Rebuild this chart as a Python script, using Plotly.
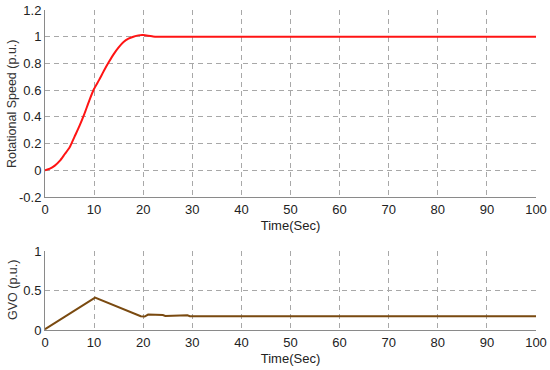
import plotly.graph_objects as go
from plotly.subplots import make_subplots

# Rotational speed data
t_speed = [0, 1, 2, 3, 4, 5, 6, 7, 8, 9, 10, 11, 12, 13, 14, 15, 16, 17, 18, 19, 20, 21, 22, 23, 100]
speed = [0, 0.012, 0.035, 0.07, 0.12, 0.17, 0.25, 0.33, 0.42, 0.52, 0.61, 0.675, 0.745, 0.81, 0.87, 0.92, 0.96, 0.985, 1.0, 1.01, 1.012, 1.008, 1.002, 1.0, 1.0]

# GVO data
t_gvo = [0, 10.2, 19.5, 20.3, 21, 23, 24, 24.5, 26, 27, 29, 29.5, 100]
gvo = [0.01, 0.41, 0.175, 0.17, 0.195, 0.195, 0.19, 0.178, 0.178, 0.186, 0.186, 0.175, 0.175]

x_ticks = [0, 10, 20, 30, 40, 50, 60, 70, 80, 90, 100]
speed_ticks = [-0.2, 0, 0.2, 0.4, 0.6, 0.8, 1, 1.2]
speed_labels = ["-0.2", "0", "0.2", "0.4", "0.6", "0.8", "1", "1.2"]
gvo_ticks = [0, 0.5, 1]
gvo_labels = ["0", "0.5", "1"]

FONT = "Liberation Sans, Arial, Helvetica"

fig = make_subplots(rows=2, cols=1)
fig.add_trace(go.Scatter(x=t_speed, y=speed, mode="lines",
                         line=dict(color="#ff1414", width=2, shape="spline", smoothing=0.6),
                         showlegend=False), row=1, col=1)
fig.add_trace(go.Scatter(x=t_gvo, y=gvo, mode="lines",
                         line=dict(color="#7a4a10", width=2), showlegend=False), row=2, col=1)

axis_common = dict(showgrid=True, gridcolor="#a8a8a8", griddash="5px,4px", gridwidth=1,
                   showline=True, linecolor="#8a8a8a", linewidth=1, zeroline=False,
                   automargin=False, ticks="",
                   tickfont=dict(family=FONT, size=13, color="#222"))

fig.update_xaxes(**axis_common, range=[0, 100], tickvals=x_ticks,
                 title=dict(text="Time(Sec)", font=dict(family=FONT, size=13, color="#222"), standoff=5))
fig.update_yaxes(**axis_common)
fig.update_yaxes(range=[-0.2, 1.2], tickvals=speed_ticks, ticktext=speed_labels,
                 domain=[0.4156, 1], row=1, col=1)
fig.update_yaxes(range=[0, 1], tickvals=gvo_ticks, ticktext=gvo_labels,
                 domain=[0, 0.2469], row=2, col=1)

fig.add_annotation(text="Rotational Speed (p.u.)", xref="paper", yref="paper",
                   x=0, y=0.706, xshift=-33, textangle=-90, showarrow=False,
                   xanchor="center", yanchor="middle",
                   font=dict(family=FONT, size=12.5, color="#333"))
fig.add_annotation(text="GVO (p.u.)", xref="paper", yref="paper",
                   x=0, y=0.125, xshift=-32, textangle=-90, showarrow=False,
                   xanchor="center", yanchor="middle",
                   font=dict(family=FONT, size=12.5, color="#333"))

fig.update_layout(width=550, height=370, margin=dict(l=45, r=14, t=10, b=40),
                  plot_bgcolor="white", paper_bgcolor="white",
                  font=dict(family=FONT))

# remove the page body's default 8px margin so the figure sits at the window origin
fig.write_html("out.html", config={"displayModeBar": False},
               post_script="document.body.style.margin='0';document.body.style.overflow='hidden';")
